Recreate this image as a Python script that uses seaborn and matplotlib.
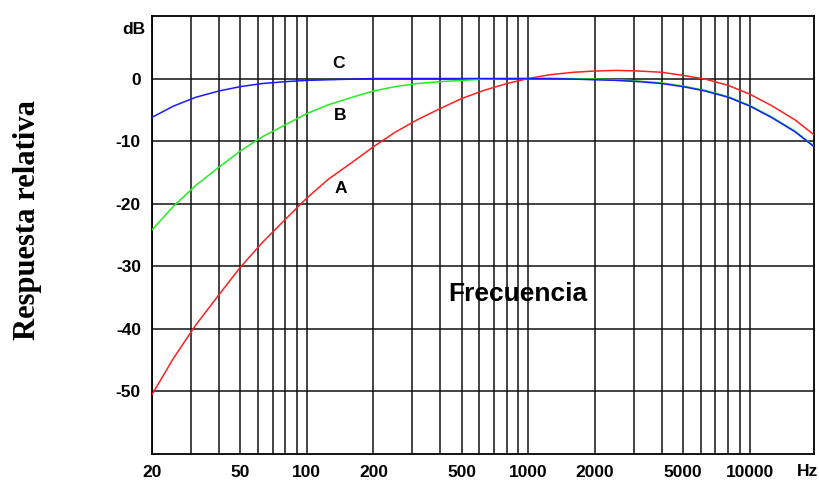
import numpy as np
import pandas as pd
import seaborn as sns
import matplotlib.pyplot as plt

# third-octave frequencies and weighting values (dB)
freqs = [20, 25, 31.5, 40, 50, 63, 80, 100, 125, 160, 200, 250, 315, 400, 500,
         630, 800, 1000, 1250, 1600, 2000, 2500, 3150, 4000, 5000, 6300, 8000,
         10000, 12500, 16000, 20000]
curve_a = [-50.5, -44.7, -39.4, -34.6, -30.2, -26.2, -22.5, -19.1, -16.1, -13.4,
           -10.9, -8.6, -6.6, -4.8, -3.2, -1.9, -0.8, 0.0, 0.6, 1.0, 1.2, 1.3,
           1.2, 1.0, 0.5, -0.1, -1.1, -2.5, -4.3, -6.6, -9.3]
curve_b = [-24.2, -20.4, -17.1, -14.2, -11.6, -9.3, -7.4, -5.6, -4.2, -3.0,
           -2.0, -1.3, -0.8, -0.5, -0.3, -0.1, 0.0, 0.0, 0.0, 0.0, -0.1, -0.2,
           -0.4, -0.7, -1.2, -1.9, -2.9, -4.3, -6.1, -8.4, -11.1]
curve_c = [-6.2, -4.4, -3.0, -2.0, -1.3, -0.8, -0.5, -0.3, -0.2, -0.1, 0.0,
           0.0, 0.0, 0.0, 0.0, 0.0, 0.0, 0.0, 0.0, -0.1, -0.2, -0.3, -0.5, -0.8,
           -1.3, -2.0, -3.0, -4.4, -6.2, -8.5, -11.2]

x_ticks = [20, 50, 100, 200, 500, 1000, 2000, 5000, 10000]
y_ticks = [0, -10, -20, -30, -40, -50]

df = pd.DataFrame({
    "f": freqs * 3,
    "dB": curve_a + curve_b + curve_c,
    "curva": ["A"] * len(freqs) + ["B"] * len(freqs) + ["C"] * len(freqs),
})

sns.set_style("white")
plt.rcParams['font.family'] = ['Liberation Sans', 'DejaVu Sans']
plt.rcParams['text.color'] = 'black'
plt.rcParams['xtick.color'] = 'black'
plt.rcParams['ytick.color'] = 'black'

fig = plt.figure(figsize=(8.19, 4.83), dpi=100)
ax = fig.add_axes([0.1856, 0.060, 0.8083, 0.907])

# log grid lines
grid_x = [v * d for d in [10, 100, 1000, 10000] for v in range(1, 10)]
grid_x = [g for g in grid_x if 20 <= g <= 19500]
for g in grid_x:
    ax.axvline(g, color="#111111", lw=1.1, zorder=1)
for g in y_ticks:
    ax.axhline(g, color="#111111", lw=1.1, zorder=1)

sns.lineplot(data=df, x="f", y="dB", hue="curva",
             palette={"A": "#ff2020", "B": "#22ee22", "C": "#1a1aff"},
             lw=1.1, legend=False, ax=ax, zorder=3)

ax.set_xscale("log")
ax.set_xlim(20, 19500)
ax.set_ylim(-60, 10)
ax.set_xticks(x_ticks)
ax.set_xticklabels([str(v) for v in x_ticks])
ax.minorticks_off()
ax.set_yticks(y_ticks)
ax.set_yticklabels([str(v) for v in y_ticks])
ax.tick_params(length=0, labelsize=12.5, pad=8)
for lab in ax.get_xticklabels() + ax.get_yticklabels():
    lab.set_fontweight("bold")
ax.set_xlabel("")
ax.set_ylabel("")
for s in ax.spines.values():
    s.set_color("black")
    s.set_linewidth(1.3)

ax.text(1.006, -0.04, "Hz", transform=ax.transAxes, ha="right", va="center",
        fontsize=12.5, fontweight="bold")
ax.text(-0.01, 0.968, "dB", transform=ax.transAxes, ha="right", va="center",
        fontsize=12.5, fontweight="bold")

ax.text(139, 2.4, "C", fontsize=12.5, fontweight="bold", ha="center", va="center")
ax.text(142, -5.9, "B", fontsize=12.5, fontweight="bold", ha="center", va="center")
ax.text(142, -17.6, "A", fontsize=12.5, fontweight="bold", ha="center", va="center")

ax.text(893, -34.5, "Frecuencia", fontsize=19, fontweight="bold",
        ha="center", va="center")
fig.text(28 / 819, 1 - 220 / 483, "Respuesta relativa", rotation=90,
         family=["Liberation Serif", "DejaVu Serif"], fontsize=22,
         fontweight="bold", ha="center", va="center")

fig.savefig("out.png", dpi=100)
